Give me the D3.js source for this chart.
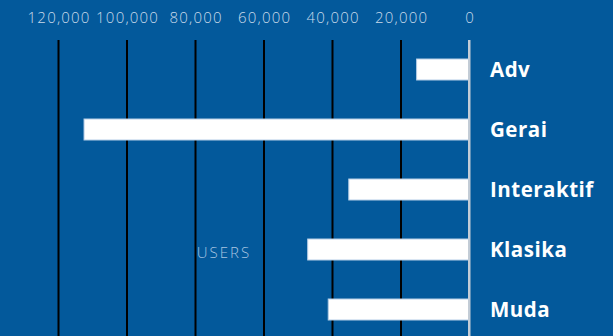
<!DOCTYPE html>
<html>
<head>
<meta charset="utf-8">
<script src="https://cdn.jsdelivr.net/npm/d3@7"></script>
<style>
  html, body { margin: 0; padding: 0; background: #03599b; }
  svg { display: block; }
</style>
</head>
<body>
<svg id="chart" width="613" height="336"></svg>
<script>
const categories = ["Adv", "Gerai", "Interaktif", "Klasika", "Muda"];
const users = [15300, 112400, 35100, 47100, 41100];
const tickValues = [0, 20000, 40000, 60000, 80000, 100000, 120000];
const axisTitle = "USERS";

const W = 613, H = 336;
const svg = d3.select("#chart");
svg.append("rect").attr("width", W).attr("height", H).attr("fill", "#03599b");

const x = d3.scaleLinear().domain([0, 120000]).range([469, 58]);
const y = d3.scaleBand().domain(categories).range([39.5, 339.5])
  .paddingInner(0.65).paddingOuter(0.325);

const axisTop = 40;
const gAxis = svg.append("g").attr("transform", `translate(0,${axisTop})`)
  .call(d3.axisTop(x).tickValues(tickValues).tickFormat(d3.format(",")).tickSizeInner(-(H - axisTop)).tickSizeOuter(0).tickPadding(17));
gAxis.select(".domain").remove();
gAxis.selectAll(".tick line")
  .attr("stroke", d => d === 0 ? "#c3ccd6" : "#000")
  .attr("stroke-width", 2);
gAxis.selectAll(".tick text")
  .attr("fill", "#c9d9ea")
  .attr("font-family", "'Open Sans', sans-serif")
  .attr("font-weight", 300)
  .attr("font-size", 15)
  .attr("letter-spacing", 1.2)
  .attr("dx", 0.6);

svg.append("text")
  .attr("x", 224).attr("y", 258)
  .attr("text-anchor", "middle")
  .attr("fill", "#a9c5e2")
  .attr("font-family", "'Open Sans', sans-serif")
  .attr("font-weight", 300)
  .attr("font-size", 15)
  .attr("letter-spacing", 2)
  .text(axisTitle);

const data = categories.map((c, i) => ({ c, v: users[i] }));

svg.append("g").selectAll("rect").data(data).join("rect")
  .attr("x", d => x(d.v))
  .attr("y", d => y(d.c))
  .attr("width", d => x(0) - x(d.v))
  .attr("height", y.bandwidth())
  .attr("fill", "#ffffff")
  .attr("stroke", "#b5cde6")
  .attr("stroke-width", 1);

// redraw zero line on top
svg.append("line")
  .attr("x1", x(0)).attr("x2", x(0))
  .attr("y1", axisTop).attr("y2", H)
  .attr("stroke", "#c3ccd6").attr("stroke-width", 2);

svg.append("g").selectAll("text").data(data).join("text")
  .attr("x", 490)
  .attr("y", d => y(d.c) + y.bandwidth() / 2 + 7)
  .attr("fill", "#ffffff")
  .attr("font-family", "'Open Sans', sans-serif")
  .attr("font-weight", 700)
  .attr("font-size", 20.5)
  .attr("letter-spacing", 0.5)
  .text(d => d.c);
</script>
</body>
</html>
